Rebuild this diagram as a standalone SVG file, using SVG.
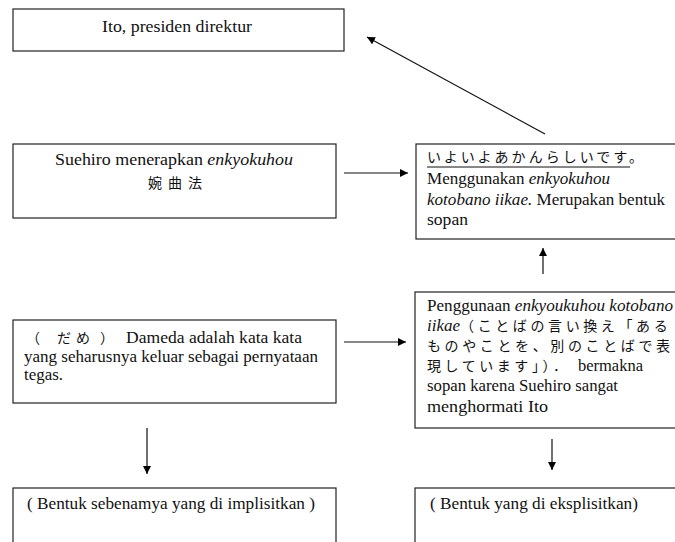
<svg xmlns="http://www.w3.org/2000/svg" width="675" height="542" viewBox="0 0 675 542">
<defs>
<marker id="ah" viewBox="0 0 10 10" refX="10" refY="5" markerWidth="8" markerHeight="8" markerUnits="userSpaceOnUse" orient="auto">
<path d="M0,0 L10,5 L0,10 z" fill="#000"/>
</marker>
</defs>
<style>
.box{fill:#fff;stroke:#222;stroke-width:1.2}
.t{font-family:"Liberation Serif","Times New Roman","Noto Sans CJK JP",serif;font-size:17px;fill:#111}
.j{font-family:"Noto Sans CJK JP",sans-serif;font-size:14px;fill:#111}
.c{stroke:#111;stroke-width:1.2;fill:none;marker-end:url(#ah)}
</style>
<rect width="675" height="542" fill="#fff"/>
<g id="n1">
<rect class="box" x="13" y="9" width="331" height="42"/>
<text class="t" x="102" y="32" textLength="150" lengthAdjust="spacingAndGlyphs">Ito, presiden direktur</text>
</g>
<g id="n2">
<rect class="box" x="13" y="144" width="323" height="74"/>
<text class="t" x="55" y="165" textLength="238" lengthAdjust="spacingAndGlyphs">Suehiro menerapkan <tspan font-style="italic">enkyokuhou</tspan></text>
<text class="j" x="148" y="188" font-size="16" textLength="54" lengthAdjust="spacing">婉曲法</text>
</g>
<g id="n3">
<rect class="box" x="416" y="144" width="270" height="95"/>
<text class="j" x="427" y="162" font-size="15" textLength="216" lengthAdjust="spacing">いよいよあかんらしいです。</text>
<line x1="427" y1="167" x2="630" y2="167" stroke="#111" stroke-width="1"/>
<text class="t" x="427" y="184" textLength="183" lengthAdjust="spacingAndGlyphs">Menggunakan <tspan font-style="italic">enkyokuhou</tspan></text>
<text class="t" x="427" y="205" textLength="238" lengthAdjust="spacingAndGlyphs"><tspan font-style="italic">kotobano iikae.</tspan> Merupakan bentuk</text>
<text class="t" x="427" y="225" textLength="41" lengthAdjust="spacingAndGlyphs">sopan</text>
</g>
<g id="n4">
<rect class="box" x="13" y="320" width="323" height="83"/>
<text class="j" x="26" y="343">（</text>
<text class="j" x="57" y="343" textLength="33" lengthAdjust="spacing">だめ</text>
<text class="j" x="100" y="343">）</text>
<text class="t" x="126" y="343" textLength="176" lengthAdjust="spacingAndGlyphs">Dameda  adalah kata kata</text>
<text class="t" x="24" y="362" textLength="294" lengthAdjust="spacingAndGlyphs">yang seharusnya keluar sebagai pernyataan</text>
<text class="t" x="24" y="380" textLength="39" lengthAdjust="spacingAndGlyphs">tegas.</text>
</g>
<g id="n5">
<rect class="box" x="415" y="292" width="270" height="136"/>
<text class="t" x="427" y="311" textLength="246" lengthAdjust="spacingAndGlyphs">Penggunaan <tspan font-style="italic">enkyoukuhou kotobano</tspan></text>
<text class="t" x="427" y="331"><tspan font-style="italic">iikae</tspan><tspan class="j" letter-spacing="3.6">（ことばの言い換え「ある</tspan></text>
<text class="j" x="427" y="351" textLength="243" lengthAdjust="spacing">ものやことを、別のことばで表</text>
<text class="j" x="427" y="371" textLength="140" lengthAdjust="spacing">現しています」）．</text>
<text class="t" x="578" y="371" textLength="65" lengthAdjust="spacingAndGlyphs">bermakna</text>
<text class="t" x="427" y="391" textLength="191" lengthAdjust="spacingAndGlyphs">sopan karena Suehiro sangat</text>
<text class="t" x="427" y="412" textLength="121" lengthAdjust="spacingAndGlyphs">menghormati Ito</text>
</g>
<g id="n6">
<rect class="box" x="13" y="488" width="323" height="70"/>
<text class="t" x="27" y="509" textLength="288" lengthAdjust="spacingAndGlyphs">( Bentuk sebenamya yang di implisitkan )</text>
</g>
<g id="n7">
<rect class="box" x="415" y="488" width="270" height="70"/>
<text class="t" x="430" y="509" textLength="208" lengthAdjust="spacingAndGlyphs">( Bentuk yang di eksplisitkan)</text>
</g>
<g id="connectors">
<line class="c" x1="545" y1="134" x2="367" y2="37"/>
<line class="c" x1="344" y1="173" x2="408" y2="173"/>
<line class="c" x1="543" y1="274" x2="543" y2="248"/>
<line class="c" x1="344" y1="342" x2="406" y2="342"/>
<line class="c" x1="147" y1="428" x2="147" y2="474"/>
<line class="c" x1="552" y1="439" x2="552" y2="470"/>
</g>
</svg>
